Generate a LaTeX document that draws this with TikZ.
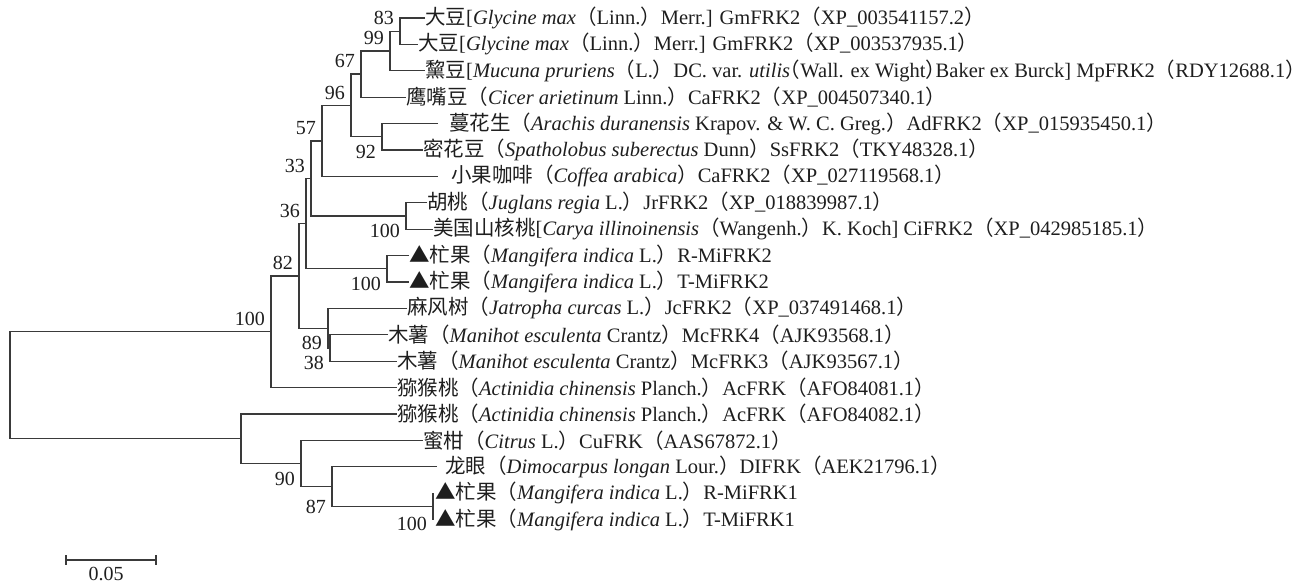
\documentclass[tikz,border=0pt]{standalone}
\usepackage{fontspec}
\setmainfont{Liberation Serif}
\newfontfamily\cjk{Noto Sans CJK SC}
\newfontfamily\cjkhalf{Noto Sans CJK SC}[RawFeature=+halt]
\usetikzlibrary{calc}
\definecolor{TreeLine}{HTML}{3A3A3A}
\definecolor{TreeText}{HTML}{1E1E1E}
\newcommand\zh[1]{{\cjk #1}}
\newcommand\lp{\zh{（}}
\newcommand\rp{\zh{）}}
\newcommand\hlp{{\cjkhalf （}}
\newcommand\hrp{{\cjkhalf ）}}
\newcommand\tri{\zh{▲}}

\begin{document}
\begin{tikzpicture}[x=1pt,y=-1pt,
  every node/.style={font=\fontsize{20}{24}\selectfont,text=TreeText},
  branch/.style={draw=TreeLine,line width=1.2pt},
  tiplabel/.style={anchor=west,inner xsep=0pt,inner ysep=1pt,font=\fontsize{20.5}{24}\selectfont},
  bsup/.style={anchor=south east,inner sep=1pt,xshift=-5pt,yshift=5pt},
  bsdown/.style={anchor=north east,inner sep=1pt,xshift=-5pt,yshift=-7pt}]
  \useasboundingbox (0,0) rectangle (1307,583);
  \def\leaf#1#2#3#4#5{
    \coordinate (#1) at (#3,{18+26.4*(#2-1)});
    \node[tiplabel,xshift=#4pt] (#1-l) at (#1) {#5};
  }
  % tips
  \leaf{t1}{1}{425}{0}{\zh{大豆}[\textit{Glycine max}\lp Linn.\rp Merr.] GmFRK2\lp XP\_003541157.2\rp}
  \leaf{t2}{2}{418}{0}{\zh{大豆}[\textit{Glycine max}\lp Linn.\rp Merr.] GmFRK2\lp XP\_003537935.1\rp}
  \leaf{t3}{3}{425}{0}{\zh{黧豆}[\textit{Mucuna pruriens}\lp L.\rp DC. var. \textit{utilis}\hlp Wall. ex Wight\hrp Baker ex Burck] MpFRK2\lp RDY12688.1\rp}
  \leaf{t4}{4}{406}{0}{\zh{鹰嘴豆}\lp\textit{Cicer arietinum} Linn.\rp CaFRK2\lp XP\_004507340.1\rp}
  \leaf{t5}{5}{438}{11}{\zh{蔓花生}\lp\textit{Arachis duranensis} Krapov. \& W. C. Greg.\rp AdFRK2\lp XP\_015935450.1\rp}
  \leaf{t6}{6}{423}{0}{\zh{密花豆}\lp\textit{Spatholobus suberectus} Dunn\rp SsFRK2\lp TKY48328.1\rp}
  \leaf{t7}{7}{438}{13}{\zh{小果咖啡}\lp\textit{Coffea arabica}\rp CaFRK2\lp XP\_027119568.1\rp}
  \leaf{t8}{8}{427}{0}{\zh{胡桃}\lp\textit{Juglans regia} L.\rp JrFRK2\lp XP\_018839987.1\rp}
  \leaf{t9}{9}{433}{0}{\zh{美国山核桃}[\textit{Carya illinoinensis}\lp Wangenh.\rp K. Koch] CiFRK2\lp XP\_042985185.1\rp}
  \leaf{t10}{10}{409}{0}{\tri\zh{杧果}\lp\textit{Mangifera indica} L.\rp R-MiFRK2}
  \leaf{t11}{11}{409}{0}{\tri\zh{杧果}\lp\textit{Mangifera indica} L.\rp T-MiFRK2}
  \leaf{t12}{12}{407}{0}{\zh{麻风树}\lp\textit{Jatropha curcas} L.\rp JcFRK2\lp XP\_037491468.1\rp}
  \leaf{t13}{13}{388}{0}{\zh{木薯}\lp\textit{Manihot esculenta} Crantz\rp McFRK4\lp AJK93568.1\rp}
  \leaf{t14}{14}{397}{0}{\zh{木薯}\lp\textit{Manihot esculenta} Crantz\rp McFRK3\lp AJK93567.1\rp}
  \leaf{t15}{15}{397}{0}{\zh{猕猴桃}\lp\textit{Actinidia chinensis} Planch.\rp AcFRK\lp AFO84081.1\rp}
  \leaf{t16}{16}{397}{0}{\zh{猕猴桃}\lp\textit{Actinidia chinensis} Planch.\rp AcFRK\lp AFO84082.1\rp}
  \leaf{t17}{17}{423}{0}{\zh{蜜柑}\lp\textit{Citrus} L.\rp CuFRK\lp AAS67872.1\rp}
  \leaf{t18}{18}{437}{8}{\zh{龙眼}\lp\textit{Dimocarpus longan} Lour.\rp DIFRK\lp AEK21796.1\rp}
  \leaf{t19}{19}{433}{2}{\tri\zh{杧果}\lp\textit{Mangifera indica} L.\rp R-MiFRK1}
  \leaf{t20}{20}{433}{2}{\tri\zh{杧果}\lp\textit{Mangifera indica} L.\rp T-MiFRK1}
  % inner nodes
  \coordinate (n83) at (400,31.2);
  \coordinate (n99) at (390,51);
  \coordinate (n67) at (361,74.1);
  \coordinate (n92) at (382,136.8);
  \coordinate (n96) at (351,105.5);
  \coordinate (n57) at (322,141);
  \coordinate (n100a) at (406,216);
  \coordinate (n33) at (311,178.5);
  \coordinate (n100b) at (387,268.8);
  \coordinate (n36) at (306,223.7);
  \coordinate (n38) at (330,348);
  \coordinate (n89) at (328,328.2);
  \coordinate (n82) at (299,276);
  \coordinate (n100c) at (271,331.8);
  \coordinate (n100d) at (433,506.4);
  \coordinate (n87) at (332,486.6);
  \coordinate (n90) at (301,463.5);
  \coordinate (nak) at (241,438.8);
  \coordinate (root) at (10,385.3);
  % branches
  \draw[branch] (t1) -| (n83) |- (t2);
  \draw[branch] (n83) -| (n99) |- (t3);
  \draw[branch] (n99) -| (n67) |- (t4);
  \draw[branch] (t5) -| (n92) |- (t6);
  \draw[branch] (n67) -| (n96) |- (n92);
  \draw[branch] (n96) -| (n57) |- (t7);
  \draw[branch] (t8) -| (n100a) |- (t9);
  \draw[branch] (n57) -| (n33) |- (n100a);
  \draw[branch] (t10) -| (n100b) |- (t11);
  \draw[branch] (n33) -| (n36) |- (n100b);
  \draw[branch] (t13) -| (n38) |- (t14);
  \draw[branch] (t12) -| (n89) |- (n38);
  \draw[branch] (n36) -| (n82) |- (n89);
  \draw[branch] (n82) -| (n100c) |- (t15);
  \draw[branch] (t19) -| (n100d) |- (t20);
  \draw[branch] (t18) -| (n87) |- (n100d);
  \draw[branch] (t17) -| (n90) |- (n87);
  \draw[branch] (t16) -| (nak) |- (n90);
  \draw[branch] (n100c) -| (root) |- (nak);
  % bootstrap values
  \node[bsup] (b83) at (n83) {83};
  \node[bsup] (b99) at (n99) {99};
  \node[bsup] (b67) at (n67) {67};
  \node[bsup] (b96) at (n96) {96};
  \node[bsup] (b57) at (n57) {57};
  \node[bsdown] (b92) at (n92) {92};
  \node[bsup] (b33) at (n33) {33};
  \node[bsdown] (b100a) at (n100a) {100};
  \node[bsup] (b36) at (n36) {36};
  \node[bsdown] (b100b) at (n100b) {100};
  \node[bsup] (b82) at (n82) {82};
  \node[bsdown] (b89) at (n89) {89};
  \node[bsdown] (b38) at (n38) {38};
  \node[bsup] (b100c) at (n100c) {100};
  \node[bsdown] (b90) at (n90) {90};
  \node[bsdown,yshift=-5pt] (b87) at (n87) {87};
  \node[bsdown,yshift=-3pt] (b100d) at (n100d) {100};
  % scale bar
  \coordinate (sbl) at (66,560);
  \coordinate (sbr) at (156,560);
  \draw[branch] (sbl) -- (sbr);
  \draw[branch] ([yshift=5pt]sbl) -- ([yshift=-5pt]sbl);
  \draw[branch] ([yshift=5pt]sbr) -- ([yshift=-5pt]sbr);
  \node (sbt) at (106,574) {0.05};
\end{tikzpicture}
\end{document}
